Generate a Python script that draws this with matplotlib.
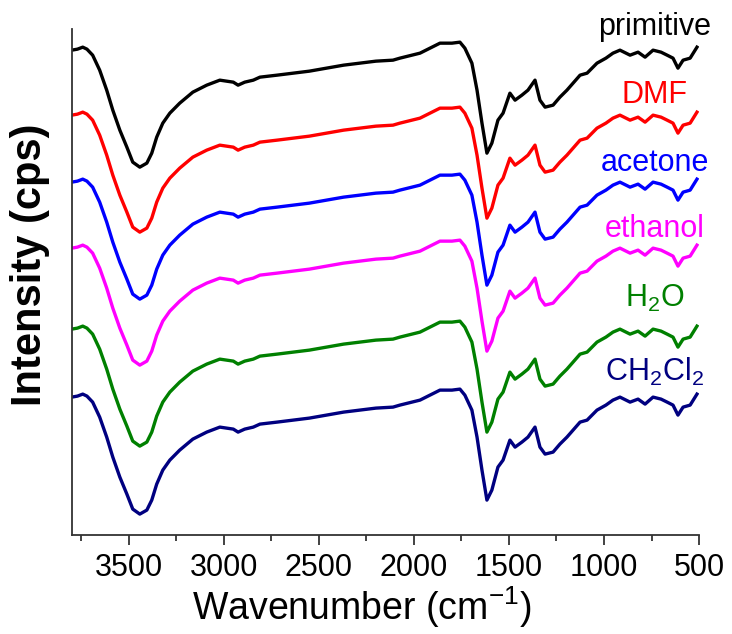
import matplotlib.pyplot as plt
from matplotlib.ticker import MultipleLocator

plt.rcParams['font.family'] = ['Liberation Sans', 'DejaVu Sans']
plt.rcParams['mathtext.fontset'] = 'custom'
plt.rcParams['mathtext.rm'] = 'Liberation Sans'
plt.rcParams['mathtext.it'] = 'Liberation Sans:italic'
plt.rcParams['mathtext.bf'] = 'Liberation Sans:bold'

# FTIR spectrum shape (wavenumber, relative intensity)
wavenumber = [3800, 3770, 3742, 3720, 3690, 3653, 3616, 3584, 3547, 3510, 3479,
              3442, 3405, 3379, 3353, 3321, 3284, 3232, 3163, 3090, 3021, 2950,
              2925, 2890, 2845, 2810, 2720, 2635, 2550, 2460, 2370, 2285, 2200,
              2110, 2074, 1968, 1863, 1800, 1758, 1732, 1695, 1668, 1642, 1616,
              1590, 1558, 1531, 1495, 1468, 1432, 1400, 1363, 1337, 1310, 1268,
              1232, 1195, 1126, 1089, 1037, 990, 953, 916, 863, 821, 784, 742,
              700, 668, 637, 611, 584, 547, 511]
intensity = [0, 1, 3, 1, -5, -20, -40, -60, -80, -97, -112,
             -117, -113, -103, -87, -73, -63, -53, -42, -35, -30, -32,
             -35, -32, -30, -27, -25, -23, -21, -18, -15, -13, -11,
             -10, -8, -3, 7, 7, 8, 2, -13, -40, -73, -103,
             -93, -70, -63, -43, -50, -45, -40, -30, -50, -57, -55,
             -47, -40, -25, -23, -13, -8, -3, 0, -5, -2, -7, 0,
             -2, -5, -8, -18, -10, -8, 3]

samples = ['primitive', 'DMF', 'acetone', 'ethanol', r'H$_2$O', r'CH$_2$Cl$_2$']
colors = ['black', '#ff0000', '#0000ff', '#ff00ff', '#008000', '#000080']
offsets = [0, -65, -132, -198, -279, -347]
label_y = [23, -45, -113, -179, -248, -322]

fig = plt.figure(figsize=(7.32, 6.34), dpi=100)
ax = fig.add_axes([0.098, 0.156, 0.857, 0.798])

for name, c, off, ly in zip(samples, colors, offsets, label_y):
    ax.plot(wavenumber, [v + off for v in intensity], color=c, lw=2.4)
    ax.text(732, ly, name, color=c, fontsize=22, ha='center', va='center', clip_on=False)

ax.set_xlim(3800, 500)
ax.set_ylim(-485, 21)
ax.xaxis.set_major_locator(MultipleLocator(500))
ax.xaxis.set_minor_locator(MultipleLocator(250))
ax.tick_params(axis='x', which='major', direction='out', length=7, width=1.3, pad=6,
               labelsize=22, colors='#333333', labelcolor='black')
ax.tick_params(axis='x', which='minor', direction='out', length=4, width=1.3, colors='#333333')
ax.set_yticks([])
for s in ['top', 'right']:
    ax.spines[s].set_visible(False)
for s in ['left', 'bottom']:
    ax.spines[s].set_linewidth(1.3)
    ax.spines[s].set_color('#333333')

ax.set_xlabel('Wavenumber (cm$^{-1}$)', fontsize=27)
ax.xaxis.set_label_coords(0.463, -0.097)
ax.set_ylabel('Intensity (cps)', fontsize=30, fontweight='bold')
ax.yaxis.set_label_coords(-0.035, 0.534)

fig.savefig('out.png', dpi=100)
